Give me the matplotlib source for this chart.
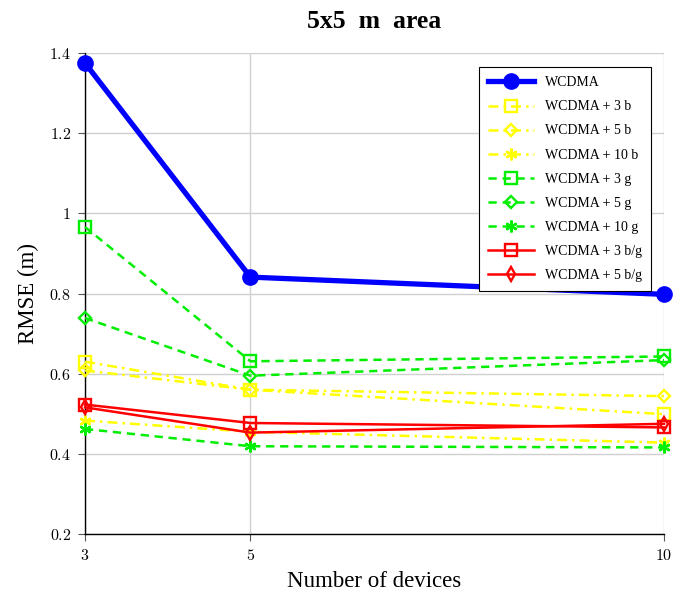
import numpy as np
import matplotlib
matplotlib.use("Agg")
import matplotlib.pyplot as plt

plt.rcParams['font.family'] = ['Liberation Serif', 'DejaVu Serif']
plt.rcParams['mathtext.fontset'] = 'cm'

devices = [3, 5, 10]

wcdma = [1.375, 0.841, 0.798]
b3 = [0.630, 0.560, 0.499]
b5 = [0.608, 0.560, 0.544]
b10 = [0.483, 0.455, 0.428]
g3 = [0.966, 0.631, 0.643]
g5 = [0.739, 0.595, 0.634]
g10 = [0.462, 0.419, 0.416]
bg3 = [0.523, 0.477, 0.466]
bg5 = [0.516, 0.453, 0.475]

labels = ["WCDMA", "WCDMA + 3 b", "WCDMA + 5 b", "WCDMA + 10 b",
          "WCDMA + 3 g", "WCDMA + 5 g", "WCDMA + 10 g",
          "WCDMA + 3 b/g", "WCDMA + 5 b/g"]

yticks = [0.2, 0.4, 0.6, 0.8, 1.0, 1.2, 1.4]
ytick_labels = ["0.2", "0.4", "0.6", "0.8", "1", "1.2", "1.4"]

fig = plt.figure(figsize=(6.84, 5.97), dpi=100)
ax = fig.add_axes([0.1243, 0.1055, 0.8465, 0.8056])

dashdot = (0, (4, 2, 1, 2))
dashed = (0, (3.3, 2.3))
star = (6, 2, 0)

# main line
ax.plot(devices, wcdma, color='#0000ff', lw=3.8, marker='o', ms=11, label=labels[0],
        zorder=3, clip_on=False)

styles = [
    (b3, '#ffff00', dashdot, 's', 8.5),
    (b5, '#ffff00', dashdot, 'D', 6.5),
    (b10, '#ffff00', dashdot, star, 8.5),
    (g3, '#00ee00', dashed, 's', 8.5),
    (g5, '#00ee00', dashed, 'D', 6.5),
    (g10, '#00ee00', dashed, star, 8.5),
    (bg3, '#ff0000', '-', 's', 8.5),
    (bg5, '#ff0000', '-', 'd', 7.5),
]
for (vals, col, ls, mk, ms), lab in zip(styles, labels[1:]):
    ax.plot(devices, vals, color=col, lw=1.8, linestyle=ls, marker=mk, ms=ms,
            markerfacecolor='none', markeredgewidth=1.7, label=lab, zorder=3,
            clip_on=False)

ax.set_xlim(3, 10)
ax.set_ylim(0.2, 1.4)
ax.set_xticks(devices)
ax.set_xticklabels([r'$%d$' % d for d in devices])
ax.set_yticks(yticks)
ax.set_yticklabels([r'$%s$' % t for t in ytick_labels])
ax.tick_params(direction='out', length=5, width=0.8, labelsize=11.5, color='#555555', pad=5)
ax.grid(True, color='#d0d0d0', lw=1)
ax.set_axisbelow(True)
for s in ['top', 'right']:
    ax.spines[s].set_visible(False)
for s in ['left', 'bottom']:
    ax.spines[s].set_color('black')
    ax.spines[s].set_linewidth(1.0)

ax.set_title("5x5  m  area", fontsize=18.5, fontweight='bold', pad=18)
ax.set_xlabel("Number of devices", fontsize=16.5, labelpad=5)
ax.set_ylabel("RMSE (m)", fontsize=16.5, labelpad=7)

leg = ax.legend(loc='upper right', bbox_to_anchor=(0.99, 0.985), fontsize=10,
                frameon=True, fancybox=False, edgecolor='black', framealpha=1,
                handlelength=3.3, labelspacing=0.8, borderpad=0.65)
leg.get_frame().set_linewidth(0.8)

fig.savefig("out.png", dpi=100)
